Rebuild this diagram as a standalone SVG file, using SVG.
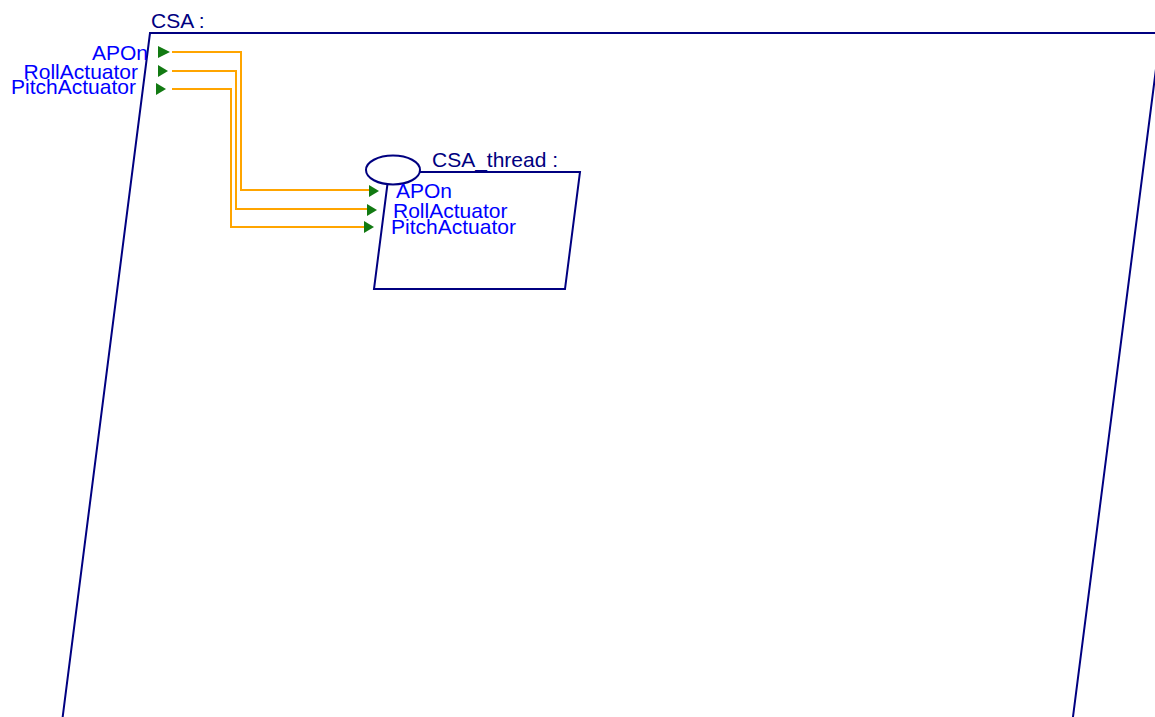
<svg xmlns="http://www.w3.org/2000/svg" width="1155" height="717" viewBox="0 0 1155 717">
<style>
.frame{fill:none;stroke:#000080;stroke-width:2}
.title{font-family:"Liberation Sans",Arial,sans-serif;font-size:21px;fill:#000080}
.port{font-family:"Liberation Sans",Arial,sans-serif;font-size:21px;fill:#0000ff}
.tri{fill:#127a12}
.wire{fill:none;stroke:#ffa500;stroke-width:2}
</style>
<rect width="1155" height="717" fill="#ffffff"/>
<g id="CSA">
<polygon class="frame" points="150,33 1160.6,33 1071.3,730 61,730"/>
<text class="title" x="151" y="28">CSA :</text>
<polygon class="tri" points="158,46 170,52 158,58"/>
<polygon class="tri" points="158,65 168,71 158,77"/>
<polygon class="tri" points="156,83 166,89 156,95"/>
<text class="port" x="148" y="60" text-anchor="end">APOn</text>
<text class="port" x="138" y="79" text-anchor="end">RollActuator</text>
<text class="port" x="136" y="94" text-anchor="end">PitchActuator</text>
</g>
<g id="CSA_thread">
<polygon class="frame" points="389,172 580,172 565,289 374,289"/>
<ellipse cx="393" cy="170" rx="27" ry="14.5" fill="#ffffff" stroke="#000080" stroke-width="2"/>
<text class="title" x="432" y="167">CSA_thread :</text>
<polygon class="tri" points="369,185 379,191 369,197"/>
<polygon class="tri" points="367,204 377,210 367,216"/>
<polygon class="tri" points="364,221 374,227 364,233"/>
<text class="port" x="396" y="198">APOn</text>
<text class="port" x="393" y="218">RollActuator</text>
<text class="port" x="391" y="234">PitchActuator</text>
</g>
<g id="connectors">
<polyline class="wire" points="172,52 241,52 241,190 369,190"/>
<polyline class="wire" points="172,71 236,71 236,209 367,209"/>
<polyline class="wire" points="172,89 231,89 231,227 364,227"/>
</g>
</svg>
